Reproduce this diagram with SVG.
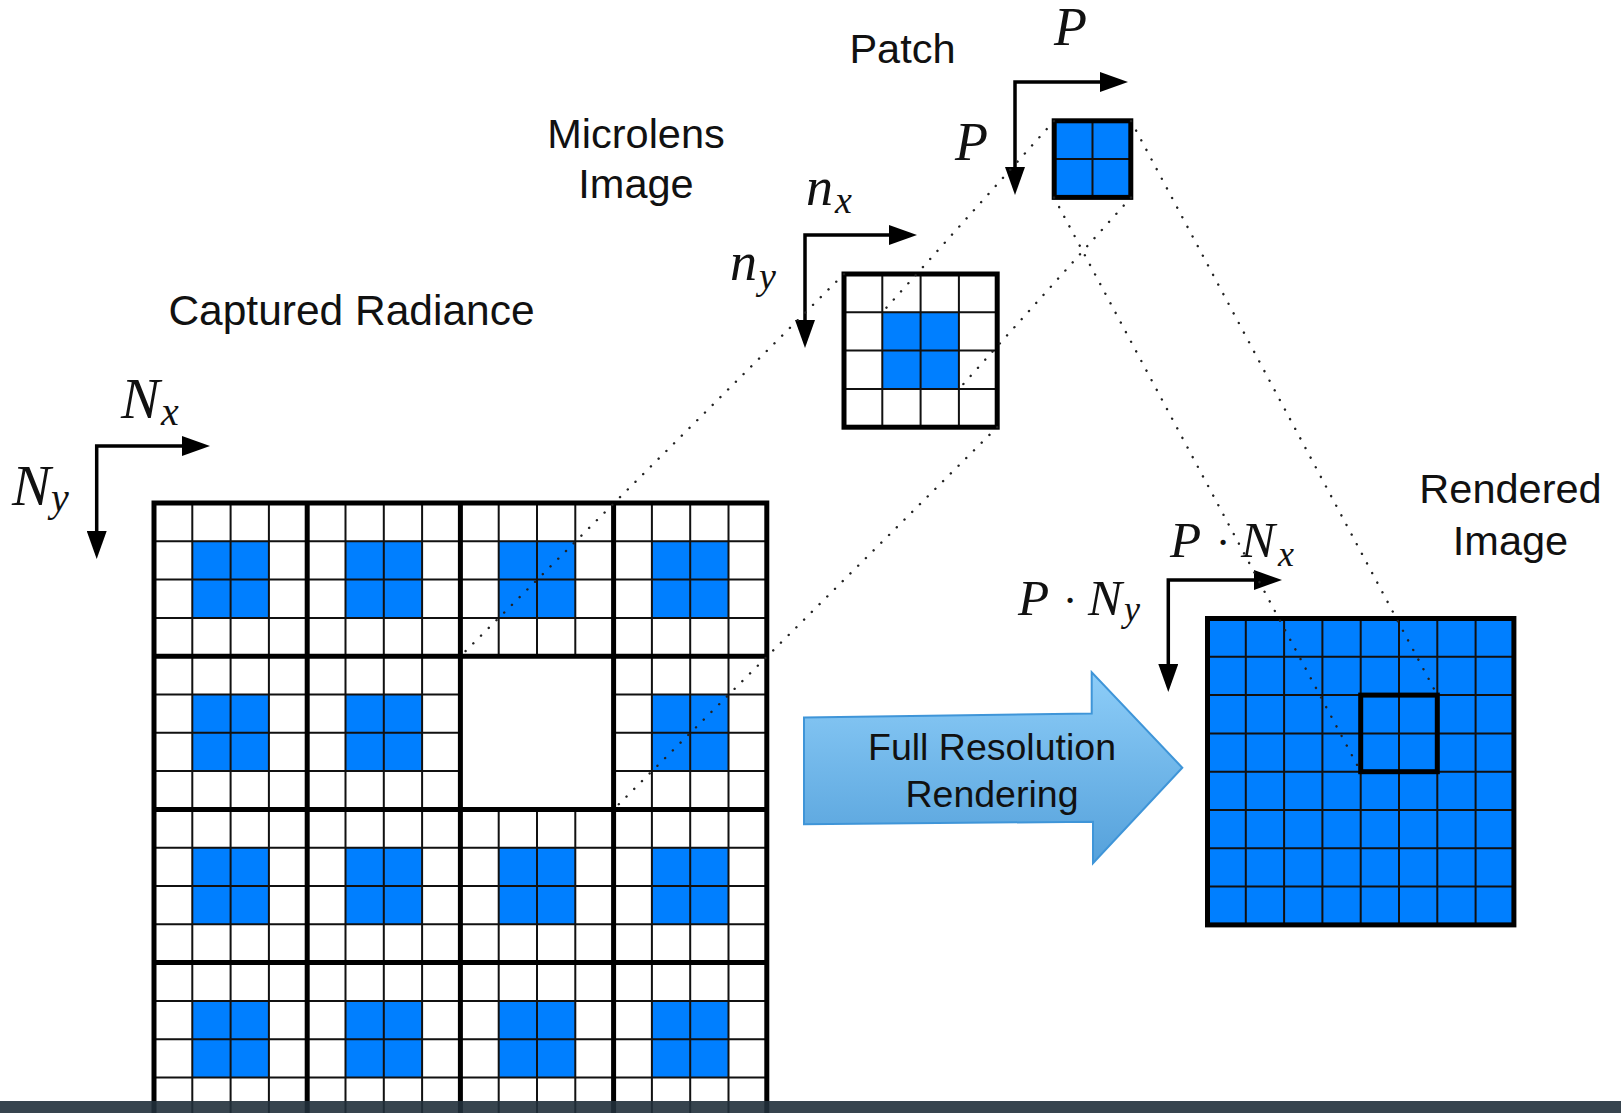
<svg xmlns="http://www.w3.org/2000/svg" width="1621" height="1113" viewBox="0 0 1621 1113">
<style>
.lbl{font-family:"Liberation Sans",Arial,Helvetica,sans-serif;font-size:41.5px;fill:#111;text-anchor:middle}
.arrtxt{font-family:"Liberation Sans",Arial,Helvetica,sans-serif;font-size:37.5px;fill:#111;text-anchor:middle}
.m{font-family:"Liberation Serif","Times New Roman",serif;font-style:italic;fill:#111}
.dot{font-family:"Liberation Serif","Times New Roman",serif;fill:#111;text-anchor:middle}
.thin{fill:none;stroke:#111;stroke-width:2}
.thick{fill:none;stroke:#000;stroke-width:5;stroke-linejoin:miter}
.blue{fill:#007FFF}
.axis{fill:none;stroke:#000;stroke-width:3.5;stroke-linejoin:miter;marker-start:url(#ah);marker-end:url(#ah)}
.dots{fill:none;stroke:#222;stroke-width:2.4;stroke-linecap:round;stroke-dasharray:0.1 10.8}
</style>
<defs>
<marker id="ah" viewBox="0 0 28 20" refX="4" refY="10" markerWidth="28" markerHeight="20" markerUnits="userSpaceOnUse" orient="auto-start-reverse">
<path d="M0,0 L28,10 L0,20 z" fill="#000"/>
</marker>
<linearGradient id="ag" x1="0" y1="0" x2="0" y2="1">
<stop offset="0" stop-color="#8DCDF8"/>
<stop offset="1" stop-color="#55A1DB"/>
</linearGradient>
</defs>
<rect width="1621" height="1113" fill="#fff"/>

<g id="captured-radiance">
<rect x="154" y="503" width="612.8" height="620" fill="#fff"/>
<g class="blue">
<rect x="192.3" y="541.3" width="76.6" height="76.6"/><rect x="345.5" y="541.3" width="76.6" height="76.6"/><rect x="498.7" y="541.3" width="76.6" height="76.6"/><rect x="651.9" y="541.3" width="76.6" height="76.6"/>
<rect x="192.3" y="694.5" width="76.6" height="76.6"/><rect x="345.5" y="694.5" width="76.6" height="76.6"/><rect x="651.9" y="694.5" width="76.6" height="76.6"/>
<rect x="192.3" y="847.7" width="76.6" height="76.6"/><rect x="345.5" y="847.7" width="76.6" height="76.6"/><rect x="498.7" y="847.7" width="76.6" height="76.6"/><rect x="651.9" y="847.7" width="76.6" height="76.6"/>
<rect x="192.3" y="1000.9" width="76.6" height="76.6"/><rect x="345.5" y="1000.9" width="76.6" height="76.6"/><rect x="498.7" y="1000.9" width="76.6" height="76.6"/><rect x="651.9" y="1000.9" width="76.6" height="76.6"/>
</g>
<path class="thin" d="M192.3,503V1120M230.6,503V1120M268.9,503V1120M345.5,503V1120M383.8,503V1120M422.1,503V1120M498.7,503V1120M537,503V1120M575.3,503V1120M651.9,503V1120M690.2,503V1120M728.5,503V1120M154,541.3H766.8M154,579.6H766.8M154,617.9H766.8M154,694.5H766.8M154,732.8H766.8M154,771.1H766.8M154,847.7H766.8M154,886H766.8M154,924.3H766.8M154,1000.9H766.8M154,1039.2H766.8M154,1077.5H766.8"/>
<rect x="460.4" y="656.2" width="153.2" height="153.2" fill="#fff"/>
<path class="thick" d="M154,1120V503H766.8V1120M307.2,503V1120M460.4,503V1120M613.6,503V1120M154,656.2H766.8M154,809.4H766.8M154,962.6H766.8"/>
<text class="lbl" x="351.5" y="325" style="font-size:42.5px">Captured Radiance</text>
<path class="axis" d="M186,446H96.7V535"/>
<text class="m" x="121" y="418" font-size="58">N</text><text class="m" x="161" y="425" font-size="40">x</text>
<text class="m" x="12" y="505" font-size="58">N</text><text class="m" x="51" y="511" font-size="40">y</text>
</g>

<g id="microlens-image">
<rect x="844" y="274" width="153.2" height="153.2" fill="#fff"/>
<rect class="blue" x="882.3" y="312.3" width="76.6" height="76.6"/>
<path class="thin" d="M882.3,274V427.2M920.6,274V427.2M958.9,274V427.2M844,312.3H997.2M844,350.6H997.2M844,388.9H997.2"/>
<rect class="thick" x="844" y="274" width="153.2" height="153.2"/>
<text class="lbl" x="636" y="148">Microlens</text>
<text class="lbl" x="636" y="198">Image</text>
<path class="axis" d="M893,235H805V324"/>
<text class="m" x="806" y="205" font-size="54">n</text><text class="m" x="835" y="213" font-size="38">x</text>
<text class="m" x="730" y="280" font-size="54">n</text><text class="m" x="759" y="289" font-size="38">y</text>
</g>

<g id="patch">
<rect class="blue" x="1054.2" y="120.8" width="76.6" height="76.6"/>
<path class="thin" d="M1092.5,120.8V197.4M1054.2,159.1H1130.8"/>
<rect class="thick" x="1054.2" y="120.8" width="76.6" height="76.6"/>
<text class="lbl" x="902.5" y="63">Patch</text>
<path class="axis" d="M1104,82H1015V171"/>
<text class="m" x="1054" y="45" font-size="54">P</text>
<text class="m" x="955" y="160" font-size="54">P</text>
</g>

<g id="full-resolution-rendering">
<path d="M804,717.5 L1091.7,713.5 L1091.7,672.3 L1182.3,767.7 L1093,863.3 L1093,821.7 L804,824.3 Z" fill="url(#ag)" stroke="#3F95D8" stroke-width="2" stroke-linejoin="miter"/>
<text class="arrtxt" x="992" y="760">Full Resolution</text>
<text class="arrtxt" x="992" y="806.7">Rendering</text>
</g>

<g id="rendered-image">
<rect class="blue" x="1207.5" y="618.5" width="306.4" height="306.4"/>
<path class="thin" d="M1245.8,618.5V924.9M1284.1,618.5V924.9M1322.4,618.5V924.9M1360.7,618.5V924.9M1399,618.5V924.9M1437.3,618.5V924.9M1475.6,618.5V924.9M1207.5,656.8H1513.9M1207.5,695.1H1513.9M1207.5,733.4H1513.9M1207.5,771.7H1513.9M1207.5,810H1513.9M1207.5,848.3H1513.9M1207.5,886.6H1513.9"/>
<rect class="thick" x="1207.5" y="618.5" width="306.4" height="306.4"/>
<rect class="thick" x="1360.7" y="695.1" width="76.6" height="76.6"/>
<text class="lbl" x="1510.5" y="503">Rendered</text>
<text class="lbl" x="1510.5" y="555">Image</text>
<path class="axis" d="M1258,580H1168.3V668"/>
<text class="m" x="1170" y="557" font-size="51">P</text><text class="dot" x="1223" y="557" font-size="44">·</text><text class="m" x="1241" y="557" font-size="51">N</text><text class="m" x="1278" y="566" font-size="36">x</text>
<text class="m" x="1018" y="615" font-size="51">P</text><text class="dot" x="1070" y="615" font-size="44">·</text><text class="m" x="1088" y="615" font-size="51">N</text><text class="m" x="1124" y="621" font-size="36">y</text>
</g>

<g id="connectors">
<path class="dots" d="M1054,121 L882.3,312.3"/>
<path class="dots" d="M1131,197.5 L958.9,389"/>
<path class="dots" d="M844,274 L460.4,656.2"/>
<path class="dots" d="M997.2,427.2 L613.6,809.4"/>
<path class="dots" d="M1054,197.5 L1360.7,771.7"/>
<path class="dots" d="M1131,121 L1437.3,695.1"/>
</g>

<rect x="0" y="1101" width="1621" height="12" fill="#21303B" opacity="0.9"/>
</svg>
